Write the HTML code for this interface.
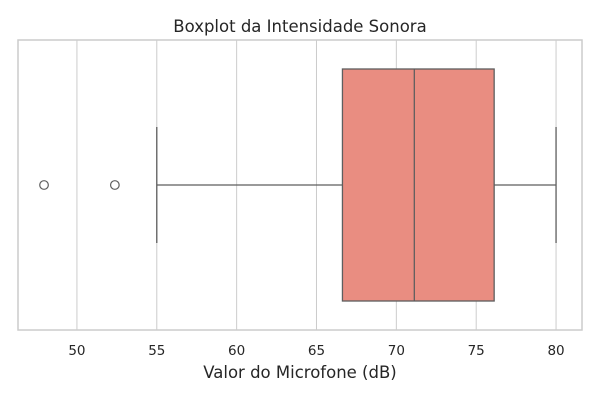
<!DOCTYPE html>
<html><head><meta charset="utf-8">
<style>
html,body{margin:0;padding:0;background:#fff;}
svg{display:block;font-family:"DejaVu Sans","Liberation Sans",sans-serif;}
</style></head>
<body>
<svg id="chart" width="600" height="400"></svg>
<script>
const tickValues = [50, 55, 60, 65, 70, 75, 80];
const tickLabels = ["50", "55", "60", "65", "70", "75", "80"];
const boxStats = [66.625, 71.125, 76.125];
const whiskerValues = [55, 80];
const outlierValues = [47.94, 52.375];

const NS = "http://www.w3.org/2000/svg";
const svg = document.getElementById("chart");
const L = 18, R = 582, T = 40, B = 330;
const dMin = 46.31, dMax = 81.625;
function xs(v){ return L + (v - dMin) / (dMax - dMin) * (R - L); }
function mk(tag, attrs, parent){
  const e = document.createElementNS(NS, tag);
  for (const k in attrs) e.setAttribute(k, attrs[k]);
  (parent || svg).appendChild(e);
  return e;
}
const cy = 185, bh = 116, ch = 58;

tickValues.forEach((v, i) => {
  const g = mk("line", {x1: xs(v), x2: xs(v), y1: T, y2: B, stroke: "#cccccc", "stroke-width": 1});
  
  
  const t = mk("text", {x: xs(v), y: 355, "text-anchor": "middle", "font-size": 13.5, fill: "#262626"});
  t.textContent = tickLabels[i];
  
  
});

const fr = mk("rect", {x: L, y: T, width: R - L, height: B - T, fill: "none", stroke: "#cccccc", "stroke-width": 1.5});



const col = "#5e5e5e";
const w1 = mk("line", {x1: xs(whiskerValues[0]), x2: xs(boxStats[0]), y1: cy, y2: cy, stroke: col, "stroke-width": 1.3});


const w2 = mk("line", {x1: xs(boxStats[2]), x2: xs(whiskerValues[1]), y1: cy, y2: cy, stroke: col, "stroke-width": 1.3});


whiskerValues.forEach((v, i) => {
  const c = mk("line", {x1: xs(v), x2: xs(v), y1: cy - ch, y2: cy + ch, stroke: col, "stroke-width": 1.3});
  
  
});
const box = mk("rect", {x: xs(boxStats[0]), y: cy - bh, width: xs(boxStats[2]) - xs(boxStats[0]), height: 2 * bh, fill: "#e98d81", stroke: col, "stroke-width": 1.3});


const med = mk("line", {x1: xs(boxStats[1]), x2: xs(boxStats[1]), y1: cy - bh, y2: cy + bh, stroke: col, "stroke-width": 1.3});


outlierValues.forEach((v, i) => {
  const o = mk("circle", {cx: xs(v), cy: cy, r: 4.3, fill: "none", stroke: col, "stroke-width": 1.2});
  
  
});

const title = mk("text", {x: 300, y: 32, "text-anchor": "middle", "font-size": 16.5, fill: "#262626"});
title.textContent = "Boxplot da Intensidade Sonora";


const xl = mk("text", {x: 300, y: 378, "text-anchor": "middle", "font-size": 16.5, fill: "#262626"});
xl.textContent = "Valor do Microfone (dB)";


</script>
</body></html>
